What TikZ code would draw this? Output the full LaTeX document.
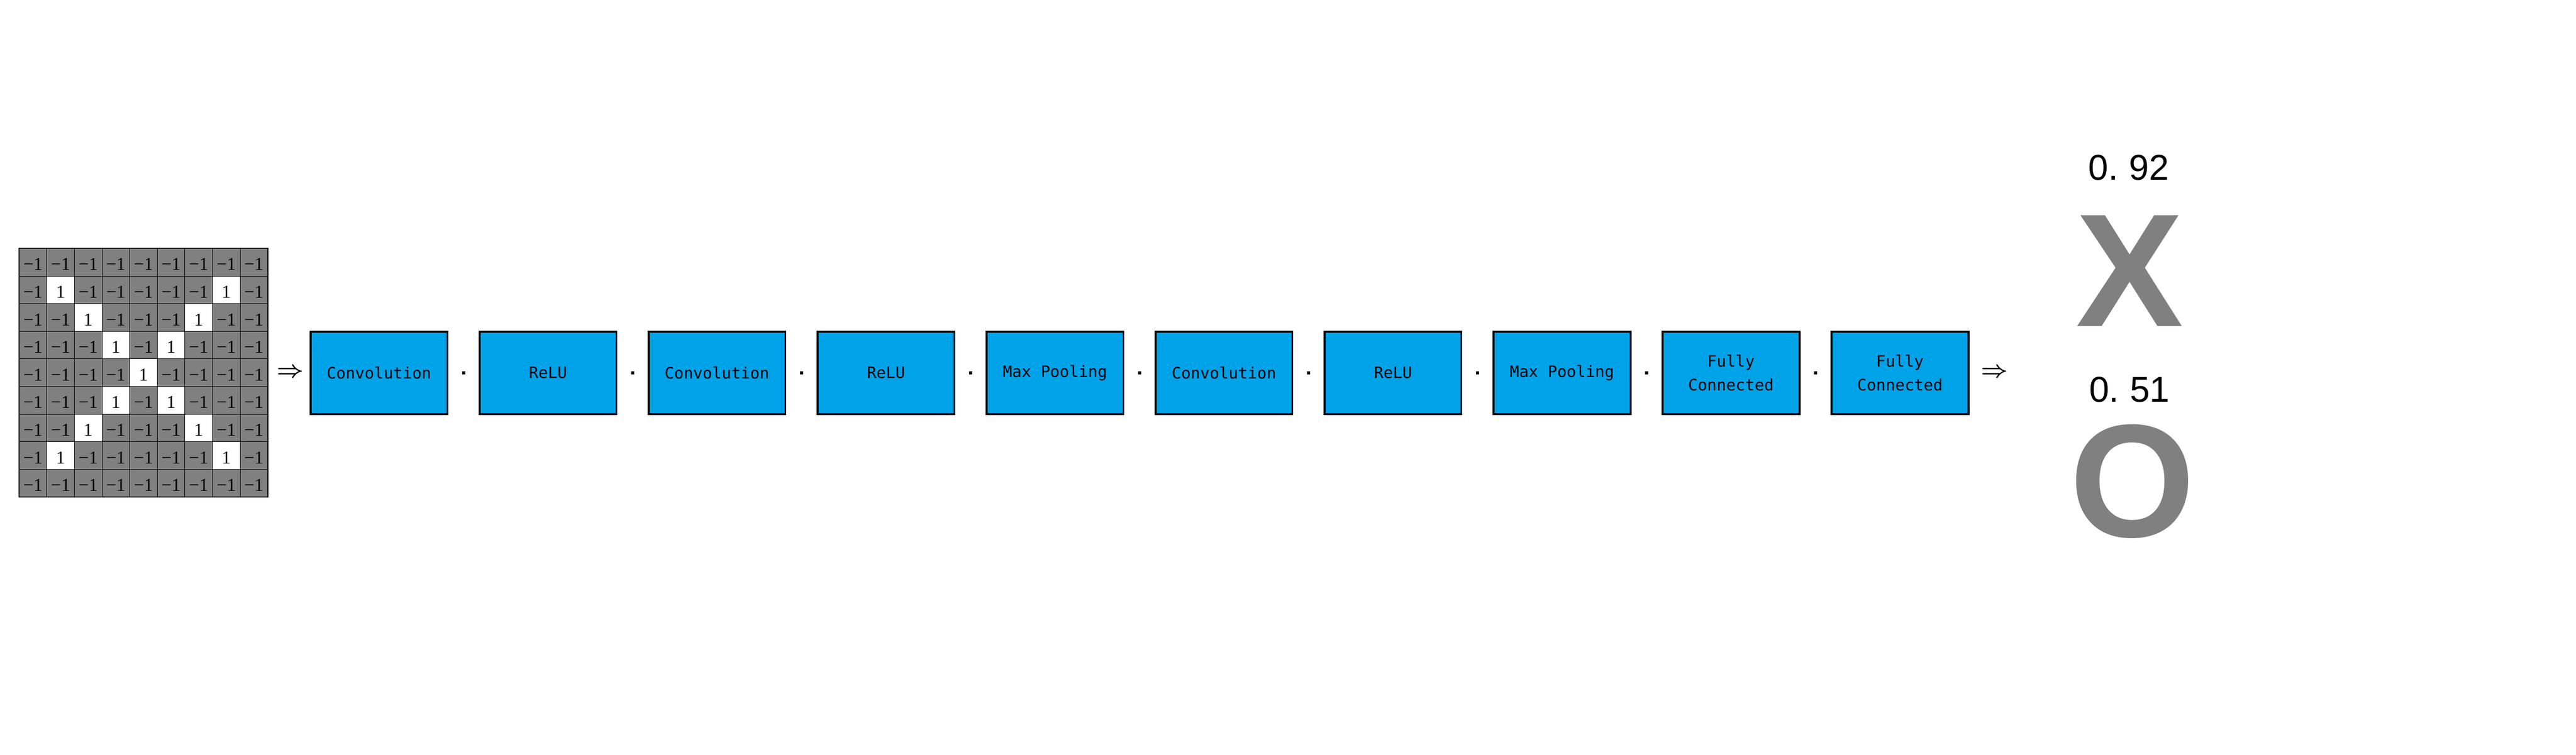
\documentclass[tikz,border=0pt]{standalone}
\usepackage{fontspec}
\usepackage{bm}
\usepackage{tikz}
\usepackage{xcolor}
\usetikzlibrary{positioning}
\newfontfamily\cellfont{Liberation Serif}
\newfontfamily\layerfont{DejaVu Sans Mono}
\newfontfamily\scorefont{Liberation Sans}
\definecolor{paintblue}{HTML}{00A2E8}
\definecolor{cellgray}{HTML}{808080}
\tikzstyle{gray cell}=[
        draw = black,
        line width = 0.3pt,
        fill = cellgray,
        minimum size = 0.72cm,
        inner sep = 0pt,
        text height = 0.42cm,
        text depth = 0cm,
        font = \cellfont\fontsize{13.4}{14}\selectfont
    ]
\tikzstyle{white cell}=[
    gray cell,
    fill = white
]
\tikzstyle{layer}=[
    draw = black,
    line width = 0.05cm,
    fill = paintblue,
    minimum width = 3.57cm,
    minimum height = 2.14cm,
    inner sep = 0pt,
    align = center,
    font = \layerfont\fontsize{11.7}{17.6}\selectfont
]
\tikzstyle{sep dot}=[
    fill = black,
    minimum size = 0.08cm,
    inner sep = 0pt
]

\begin{document}
\begin{tikzpicture}[node distance={4.406cm}, score/.style = {anchor=base, font=\scorefont\fontsize{26.6}{30}\selectfont}, letter/.style = {anchor=base, text=cellgray, font=\scorefont\bfseries\fontsize{119.5}{120}\selectfont}]
        \useasboundingbox (0,0) rectangle (67.16,19.68);

        % input image
        \foreach \r in {0,...,8}{
            \foreach \c in {0,...,8}{
                \pgfmathtruncatemacro{\one}{((\r==\c)||(\r+\c==8))&&(\r>0)&&(\r<8)}
                \ifnum\one=1
                    \node[white cell] (g\r\c) at ({0.86+0.72*\c},{12.84-0.72*\r}) {1};
                \else
                    \node[gray cell] (g\r\c) at ({0.86+0.72*\c},{12.84-0.72*\r}) {−1};
                \fi
            }
        }
        \draw[line width = 0.6pt] (g00.north west) rectangle (g88.south east);

        % layers
        \node[layer] (conv1) at (9.88,9.955) {Convolution};
        \node[layer] (relu1) [right of = conv1] {ReLU};
        \node[layer] (conv2) [right of = relu1] {Convolution};
        \node[layer] (relu2) [right of = conv2] {ReLU};
        \node[layer] (pool1) [right of = relu2] {Max Pooling};
        \node[layer] (conv3) [right of = pool1] {Convolution};
        \node[layer] (relu3) [right of = conv3] {ReLU};
        \node[layer] (pool2) [right of = relu3] {Max Pooling};
        \node[layer] (fc1) [right of = pool2] {Fully\\Connected};
        \node[layer] (fc2) [right of = fc1] {Fully\\Connected};

        \path (conv1) -- (relu1) node [midway, sep dot] (d1) {};
        \path (relu1) -- (conv2) node [midway, sep dot] (d2) {};
        \path (conv2) -- (relu2) node [midway, sep dot] (d3) {};
        \path (relu2) -- (pool1) node [midway, sep dot] (d4) {};
        \path (pool1) -- (conv3) node [midway, sep dot] (d5) {};
        \path (conv3) -- (relu3) node [midway, sep dot] (d6) {};
        \path (relu3) -- (pool2) node [midway, sep dot] (d7) {};
        \path (pool2) -- (fc1) node [midway, sep dot] (d8) {};
        \path (fc1) -- (fc2) node [midway, sep dot] (d9) {};

        \node (in) [left of = conv1, node distance = 2.31cm, font = \fontsize{17.28}{20}\selectfont] {$\bm{\Rightarrow}$};
        \node (out) [right of = fc2, node distance = 2.47cm, font = \fontsize{17.28}{20}\selectfont] {$\bm{\Rightarrow}$};

        % outputs
        \node[score] (px) at (55.50,14.98) {0.\kern0.3em92};
        \node[letter] (x) at (55.52,11.17) {X};
        \node[score] (po) at (55.52,9.19) {0.\kern0.3em51};
        \node[letter] (o) at (55.60,5.68) {O};

    \end{tikzpicture}
\end{document}
